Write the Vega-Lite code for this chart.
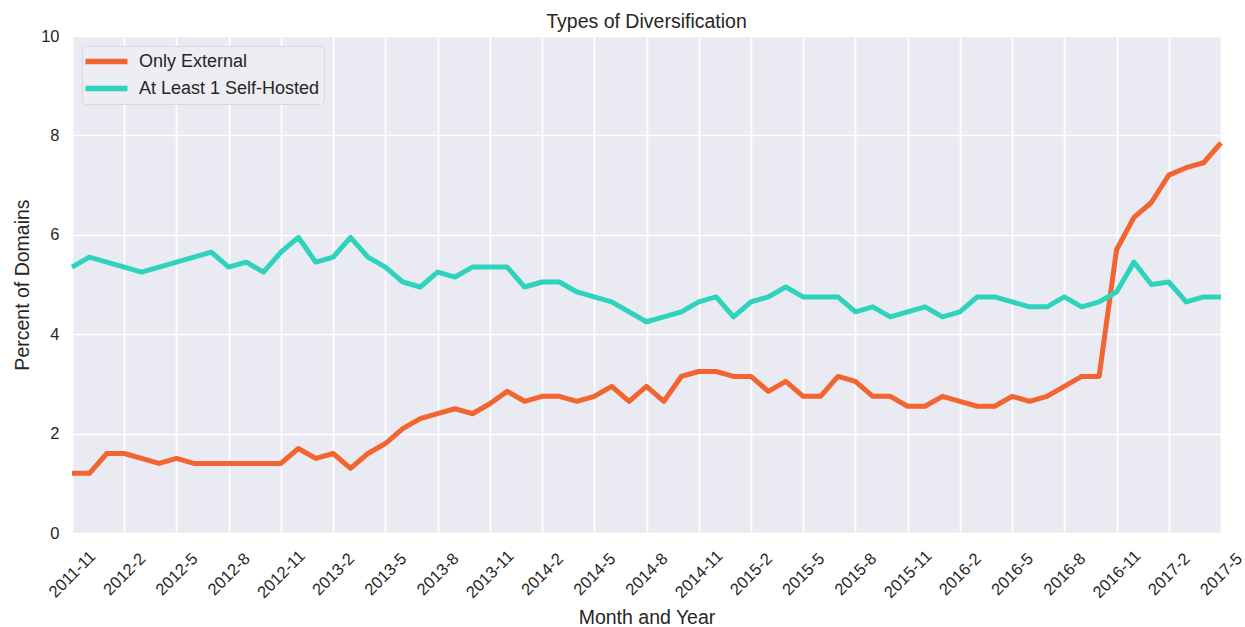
{
  "$schema": "https://vega.github.io/schema/vega-lite/v6.json",
  "autosize": "none",
  "width": 1149,
  "height": 497,
  "padding": {"left": 72, "top": 36, "right": 24, "bottom": 94},
  "background": "white",
  "config": {
    "font": "Liberation Sans",
    "view": {"fill": "#EAEAF2", "stroke": null},
    "axis": {"domain": false, "ticks": false, "gridColor": "white", "gridWidth": 1.6, "labelFont": "Liberation Sans", "labelFontSize": 16.5, "labelColor": "#262626", "titleFont": "Liberation Sans", "titleFontSize": 19.5, "titleFontWeight": "normal", "titleColor": "#262626"}
  },
  "title": {"text": "Types of Diversification", "fontSize": 19.5, "fontWeight": "normal", "color": "#262626", "font": "Liberation Sans", "offset": -4},
  "data": {"values": [
    {"month": "2011-11", "series": "Only External", "value": 1.2},
    {"month": "2011-12", "series": "Only External", "value": 1.2},
    {"month": "2012-1", "series": "Only External", "value": 1.6},
    {"month": "2012-2", "series": "Only External", "value": 1.6},
    {"month": "2012-3", "series": "Only External", "value": 1.5},
    {"month": "2012-4", "series": "Only External", "value": 1.4},
    {"month": "2012-5", "series": "Only External", "value": 1.5},
    {"month": "2012-6", "series": "Only External", "value": 1.4},
    {"month": "2012-7", "series": "Only External", "value": 1.4},
    {"month": "2012-8", "series": "Only External", "value": 1.4},
    {"month": "2012-9", "series": "Only External", "value": 1.4},
    {"month": "2012-10", "series": "Only External", "value": 1.4},
    {"month": "2012-11", "series": "Only External", "value": 1.4},
    {"month": "2012-12", "series": "Only External", "value": 1.7},
    {"month": "2013-1", "series": "Only External", "value": 1.5},
    {"month": "2013-2", "series": "Only External", "value": 1.6},
    {"month": "2013-3", "series": "Only External", "value": 1.3},
    {"month": "2013-4", "series": "Only External", "value": 1.6},
    {"month": "2013-5", "series": "Only External", "value": 1.8},
    {"month": "2013-6", "series": "Only External", "value": 2.1},
    {"month": "2013-7", "series": "Only External", "value": 2.3},
    {"month": "2013-8", "series": "Only External", "value": 2.4},
    {"month": "2013-9", "series": "Only External", "value": 2.5},
    {"month": "2013-10", "series": "Only External", "value": 2.4},
    {"month": "2013-11", "series": "Only External", "value": 2.6},
    {"month": "2013-12", "series": "Only External", "value": 2.85},
    {"month": "2014-1", "series": "Only External", "value": 2.65},
    {"month": "2014-2", "series": "Only External", "value": 2.75},
    {"month": "2014-3", "series": "Only External", "value": 2.75},
    {"month": "2014-4", "series": "Only External", "value": 2.65},
    {"month": "2014-5", "series": "Only External", "value": 2.75},
    {"month": "2014-6", "series": "Only External", "value": 2.95},
    {"month": "2014-7", "series": "Only External", "value": 2.65},
    {"month": "2014-8", "series": "Only External", "value": 2.95},
    {"month": "2014-9", "series": "Only External", "value": 2.65},
    {"month": "2014-10", "series": "Only External", "value": 3.15},
    {"month": "2014-11", "series": "Only External", "value": 3.25},
    {"month": "2014-12", "series": "Only External", "value": 3.25},
    {"month": "2015-1", "series": "Only External", "value": 3.15},
    {"month": "2015-2", "series": "Only External", "value": 3.15},
    {"month": "2015-3", "series": "Only External", "value": 2.85},
    {"month": "2015-4", "series": "Only External", "value": 3.05},
    {"month": "2015-5", "series": "Only External", "value": 2.75},
    {"month": "2015-6", "series": "Only External", "value": 2.75},
    {"month": "2015-7", "series": "Only External", "value": 3.15},
    {"month": "2015-8", "series": "Only External", "value": 3.05},
    {"month": "2015-9", "series": "Only External", "value": 2.75},
    {"month": "2015-10", "series": "Only External", "value": 2.75},
    {"month": "2015-11", "series": "Only External", "value": 2.55},
    {"month": "2015-12", "series": "Only External", "value": 2.55},
    {"month": "2016-1", "series": "Only External", "value": 2.75},
    {"month": "2016-2", "series": "Only External", "value": 2.65},
    {"month": "2016-3", "series": "Only External", "value": 2.55},
    {"month": "2016-4", "series": "Only External", "value": 2.55},
    {"month": "2016-5", "series": "Only External", "value": 2.75},
    {"month": "2016-6", "series": "Only External", "value": 2.65},
    {"month": "2016-7", "series": "Only External", "value": 2.75},
    {"month": "2016-8", "series": "Only External", "value": 2.95},
    {"month": "2016-9", "series": "Only External", "value": 3.15},
    {"month": "2016-10", "series": "Only External", "value": 3.15},
    {"month": "2016-11", "series": "Only External", "value": 5.7},
    {"month": "2016-12", "series": "Only External", "value": 6.35},
    {"month": "2017-1", "series": "Only External", "value": 6.65},
    {"month": "2017-2", "series": "Only External", "value": 7.2},
    {"month": "2017-3", "series": "Only External", "value": 7.35},
    {"month": "2017-4", "series": "Only External", "value": 7.45},
    {"month": "2017-5", "series": "Only External", "value": 7.85},
    {"month": "2011-11", "series": "At Least 1 Self-Hosted", "value": 5.35},
    {"month": "2011-12", "series": "At Least 1 Self-Hosted", "value": 5.55},
    {"month": "2012-1", "series": "At Least 1 Self-Hosted", "value": 5.45},
    {"month": "2012-2", "series": "At Least 1 Self-Hosted", "value": 5.35},
    {"month": "2012-3", "series": "At Least 1 Self-Hosted", "value": 5.25},
    {"month": "2012-4", "series": "At Least 1 Self-Hosted", "value": 5.35},
    {"month": "2012-5", "series": "At Least 1 Self-Hosted", "value": 5.45},
    {"month": "2012-6", "series": "At Least 1 Self-Hosted", "value": 5.55},
    {"month": "2012-7", "series": "At Least 1 Self-Hosted", "value": 5.65},
    {"month": "2012-8", "series": "At Least 1 Self-Hosted", "value": 5.35},
    {"month": "2012-9", "series": "At Least 1 Self-Hosted", "value": 5.45},
    {"month": "2012-10", "series": "At Least 1 Self-Hosted", "value": 5.25},
    {"month": "2012-11", "series": "At Least 1 Self-Hosted", "value": 5.65},
    {"month": "2012-12", "series": "At Least 1 Self-Hosted", "value": 5.95},
    {"month": "2013-1", "series": "At Least 1 Self-Hosted", "value": 5.45},
    {"month": "2013-2", "series": "At Least 1 Self-Hosted", "value": 5.55},
    {"month": "2013-3", "series": "At Least 1 Self-Hosted", "value": 5.95},
    {"month": "2013-4", "series": "At Least 1 Self-Hosted", "value": 5.55},
    {"month": "2013-5", "series": "At Least 1 Self-Hosted", "value": 5.35},
    {"month": "2013-6", "series": "At Least 1 Self-Hosted", "value": 5.05},
    {"month": "2013-7", "series": "At Least 1 Self-Hosted", "value": 4.95},
    {"month": "2013-8", "series": "At Least 1 Self-Hosted", "value": 5.25},
    {"month": "2013-9", "series": "At Least 1 Self-Hosted", "value": 5.15},
    {"month": "2013-10", "series": "At Least 1 Self-Hosted", "value": 5.35},
    {"month": "2013-11", "series": "At Least 1 Self-Hosted", "value": 5.35},
    {"month": "2013-12", "series": "At Least 1 Self-Hosted", "value": 5.35},
    {"month": "2014-1", "series": "At Least 1 Self-Hosted", "value": 4.95},
    {"month": "2014-2", "series": "At Least 1 Self-Hosted", "value": 5.05},
    {"month": "2014-3", "series": "At Least 1 Self-Hosted", "value": 5.05},
    {"month": "2014-4", "series": "At Least 1 Self-Hosted", "value": 4.85},
    {"month": "2014-5", "series": "At Least 1 Self-Hosted", "value": 4.75},
    {"month": "2014-6", "series": "At Least 1 Self-Hosted", "value": 4.65},
    {"month": "2014-7", "series": "At Least 1 Self-Hosted", "value": 4.45},
    {"month": "2014-8", "series": "At Least 1 Self-Hosted", "value": 4.25},
    {"month": "2014-9", "series": "At Least 1 Self-Hosted", "value": 4.35},
    {"month": "2014-10", "series": "At Least 1 Self-Hosted", "value": 4.45},
    {"month": "2014-11", "series": "At Least 1 Self-Hosted", "value": 4.65},
    {"month": "2014-12", "series": "At Least 1 Self-Hosted", "value": 4.75},
    {"month": "2015-1", "series": "At Least 1 Self-Hosted", "value": 4.35},
    {"month": "2015-2", "series": "At Least 1 Self-Hosted", "value": 4.65},
    {"month": "2015-3", "series": "At Least 1 Self-Hosted", "value": 4.75},
    {"month": "2015-4", "series": "At Least 1 Self-Hosted", "value": 4.95},
    {"month": "2015-5", "series": "At Least 1 Self-Hosted", "value": 4.75},
    {"month": "2015-6", "series": "At Least 1 Self-Hosted", "value": 4.75},
    {"month": "2015-7", "series": "At Least 1 Self-Hosted", "value": 4.75},
    {"month": "2015-8", "series": "At Least 1 Self-Hosted", "value": 4.45},
    {"month": "2015-9", "series": "At Least 1 Self-Hosted", "value": 4.55},
    {"month": "2015-10", "series": "At Least 1 Self-Hosted", "value": 4.35},
    {"month": "2015-11", "series": "At Least 1 Self-Hosted", "value": 4.45},
    {"month": "2015-12", "series": "At Least 1 Self-Hosted", "value": 4.55},
    {"month": "2016-1", "series": "At Least 1 Self-Hosted", "value": 4.35},
    {"month": "2016-2", "series": "At Least 1 Self-Hosted", "value": 4.45},
    {"month": "2016-3", "series": "At Least 1 Self-Hosted", "value": 4.75},
    {"month": "2016-4", "series": "At Least 1 Self-Hosted", "value": 4.75},
    {"month": "2016-5", "series": "At Least 1 Self-Hosted", "value": 4.65},
    {"month": "2016-6", "series": "At Least 1 Self-Hosted", "value": 4.55},
    {"month": "2016-7", "series": "At Least 1 Self-Hosted", "value": 4.55},
    {"month": "2016-8", "series": "At Least 1 Self-Hosted", "value": 4.75},
    {"month": "2016-9", "series": "At Least 1 Self-Hosted", "value": 4.55},
    {"month": "2016-10", "series": "At Least 1 Self-Hosted", "value": 4.65},
    {"month": "2016-11", "series": "At Least 1 Self-Hosted", "value": 4.85},
    {"month": "2016-12", "series": "At Least 1 Self-Hosted", "value": 5.45},
    {"month": "2017-1", "series": "At Least 1 Self-Hosted", "value": 5.0},
    {"month": "2017-2", "series": "At Least 1 Self-Hosted", "value": 5.05},
    {"month": "2017-3", "series": "At Least 1 Self-Hosted", "value": 4.65},
    {"month": "2017-4", "series": "At Least 1 Self-Hosted", "value": 4.75},
    {"month": "2017-5", "series": "At Least 1 Self-Hosted", "value": 4.75}
  ]},
  "mark": {"type": "line", "strokeWidth": 5, "strokeJoin": "round"},
  "encoding": {
    "x": {
      "field": "month", "type": "ordinal", "sort": null,
      "scale": {"type": "point", "padding": 0},
      "axis": {
        "title": "Month and Year",
        "values": ["2011-11","2012-2","2012-5","2012-8","2012-11","2013-2","2013-5","2013-8","2013-11","2014-2","2014-5","2014-8","2014-11","2015-2","2015-5","2015-8","2015-11","2016-2","2016-5","2016-8","2016-11","2017-2","2017-5"],
        "labelAngle": -45, "labelAlign": "center", "labelBaseline": "middle",
        "labelPadding": 41, "titlePadding": 8, "grid": true
      }
    },
    "y": {
      "field": "value", "type": "quantitative",
      "scale": {"domain": [0, 10], "nice": false},
      "axis": {"title": "Percent of Domains", "values": [0, 2, 4, 6, 8, 10], "labelPadding": 13, "titlePadding": 8}
    },
    "color": {
      "field": "series", "type": "nominal",
      "scale": {"domain": ["Only External", "At Least 1 Self-Hosted"], "range": ["#F26430", "#2DD3BD"]},
      "legend": {
        "title": null, "orient": "top-left", "offset": 10,
        "symbolType": "M-1.41,0H3.53", "symbolSize": 289, "symbolStrokeWidth": 5.5,
        "labelFontSize": 18, "labelColor": "#262626", "labelFont": "Liberation Sans", "labelOffset": 30, "labelLimit": 400,
        "rowPadding": 4, "padding": 4,
        "fillColor": "#EDEDF3", "strokeColor": "#D8D8E0", "cornerRadius": 4
      }
    }
  }
}
